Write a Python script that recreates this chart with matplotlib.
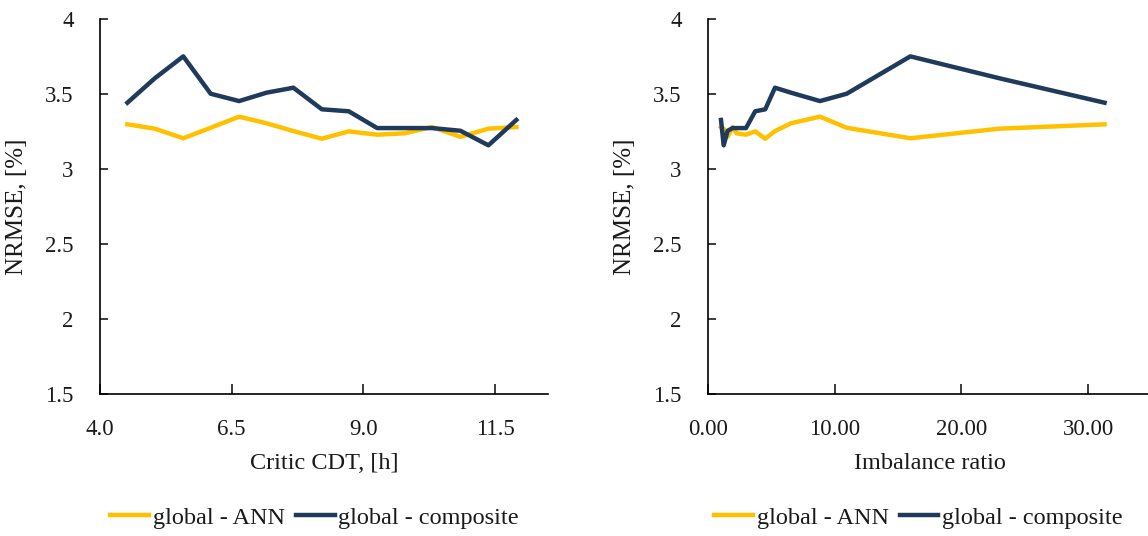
import matplotlib
matplotlib.use("Agg")
import matplotlib.pyplot as plt
from matplotlib.ticker import FuncFormatter, MultipleLocator

# NRMSE per run, ordered by critical CDT
critic_cdt = [4.52, 5.04, 5.58, 6.10, 6.64, 7.16, 7.67, 8.21, 8.72, 9.26,
              9.78, 10.30, 10.84, 11.37, 11.90]
imbalance = [31.3, 23.0, 15.97, 10.95, 8.84, 6.55, 5.29, 4.52, 3.73, 3.0,
             2.26, 1.95, 1.55, 1.24, 1.03]
nrmse_ann = [3.298, 3.269, 3.205, 3.275, 3.349, 3.305, 3.253, 3.202, 3.251,
             3.229, 3.238, 3.280, 3.215, 3.269, 3.280]
nrmse_comp = [3.442, 3.605, 3.751, 3.502, 3.453, 3.509, 3.542, 3.398, 3.385,
              3.273, 3.273, 3.273, 3.255, 3.158, 3.327]
cdt_ticks = [4.0, 6.5, 9.0, 11.5]
imb_ticks = [0, 10, 20, 30]

# imbalance plot is drawn in ascending order
order = sorted(range(len(imbalance)), key=lambda i: imbalance[i])
imb_sorted = [imbalance[i] for i in order]
ann_sorted = [nrmse_ann[i] for i in order]
comp_sorted = [nrmse_comp[i] for i in order]

YELLOW = "#FFC000"
NAVY = "#203A5C"
TXT = "#1a1a1a"

plt.rcParams["font.family"] = ["Liberation Serif", "DejaVu Serif"]
plt.rcParams["font.size"] = 15

fig = plt.figure(figsize=(11.48, 5.36), dpi=100)
ax1 = fig.add_axes([0.0871, 0.2649, 0.3902, 0.6996])
ax2 = fig.add_axes([0.6167, 0.2649, 0.3863, 0.6996])


def style(ax, xlabel, xfmt, xlim, xticks):
    ax.set_ylim(1.5, 4)
    ax.set_xlim(*xlim)
    ax.set_xticks(xticks)
    ax.yaxis.set_major_locator(MultipleLocator(0.5))
    ax.xaxis.set_major_formatter(FuncFormatter(lambda v, p: xfmt % v))
    ax.yaxis.set_major_formatter(FuncFormatter(lambda v, p: "%g" % v))
    for s in ["top", "right"]:
        ax.spines[s].set_visible(False)
    for s in ["left", "bottom"]:
        ax.spines[s].set_linewidth(1.2)
    ax.tick_params(axis="x", direction="in", length=7, width=1.2, pad=18,
                   labelsize=16.5, colors=TXT)
    ax.tick_params(axis="y", direction="in", length=6, width=1.2, pad=19,
                   labelsize=16.5, colors=TXT)
    ax.set_xlabel(xlabel, fontsize=17.5, color=TXT, labelpad=9)
    ax.set_ylabel("NRMSE, [%]", fontsize=18, color=TXT, labelpad=12)


ax1.plot(critic_cdt, nrmse_ann, color=YELLOW, lw=3.2, label="global - ANN")
ax1.plot(critic_cdt, nrmse_comp, color=NAVY, lw=3.2, label="global - composite")
style(ax1, "Critic CDT, [h]", "%.1f", (4, 12.5), cdt_ticks)

ax2.plot(imb_sorted, ann_sorted, color=YELLOW, lw=3.2, label="global - ANN")
ax2.plot(imb_sorted, comp_sorted, color=NAVY, lw=3.2, label="global - composite")
style(ax2, "Imbalance ratio", "%.2f", (0, 35), imb_ticks)

for ax, cx in [(ax1, 0.274), (ax2, 0.80)]:
    ax.legend(loc="center", bbox_to_anchor=(cx, 0.034), bbox_transform=fig.transFigure,
              ncol=2, frameon=False, fontsize=17.5, handlelength=1.6,
              handletextpad=0.15, columnspacing=0.45, labelcolor=TXT)

fig.savefig("out.png", dpi=100)
